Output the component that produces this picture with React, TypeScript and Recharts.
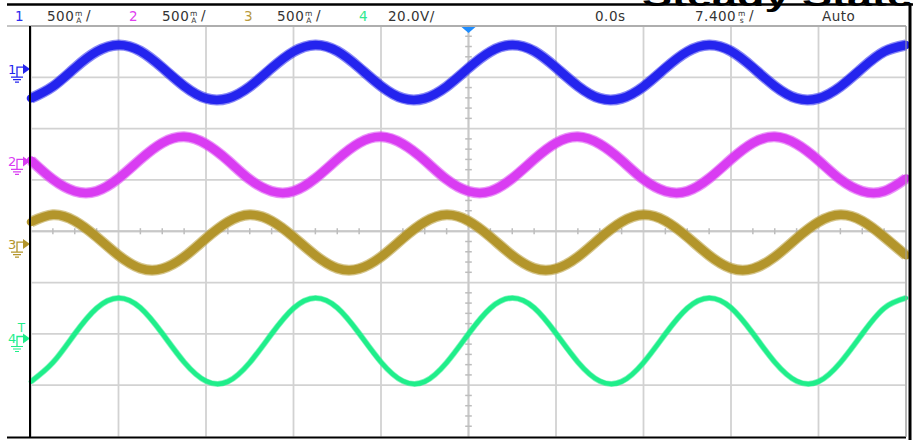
import { LineChart, Line, XAxis, YAxis, CartesianGrid, ReferenceLine, ReferenceDot } from 'recharts';

// time base: 7.400 ms/div, 10 div, trigger at 0.0s
const timeMs = [
  -37, -35.15, -33.3, -31.45, -29.6, -27.75, -25.9, -24.05, -22.2, -20.35,
  -18.5, -16.65, -14.8, -12.95, -11.1, -9.25, -7.4, -5.55, -3.7, -1.85,
  0, 1.85, 3.7, 5.55, 7.4, 9.25, 11.1, 12.95, 14.8, 16.65,
  18.5, 20.35, 22.2, 24.05, 25.9, 27.75, 29.6, 31.45, 33.3, 35.15, 37,
];

// traces, in divisions (0 = centre line)
const ch1 = [
  2.59, 2.82, 3.18, 3.5, 3.63, 3.51, 3.19, 2.83, 2.59,
  2.59, 2.82, 3.18, 3.5, 3.63, 3.51, 3.19, 2.83, 2.59,
  2.59, 2.82, 3.18, 3.5, 3.63, 3.51, 3.19, 2.83, 2.59,
  2.59, 2.82, 3.18, 3.5, 3.63, 3.51, 3.19, 2.83, 2.59,
  2.59, 2.82, 3.18, 3.5, 3.63,
];
const ch2 = [
  1.38, 1.01, 0.78, 0.78, 1.03, 1.4, 1.72, 1.84, 1.7,
  1.38, 1.01, 0.78, 0.78, 1.03, 1.4, 1.72, 1.84, 1.7,
  1.38, 1.01, 0.78, 0.78, 1.03, 1.4, 1.72, 1.84, 1.7,
  1.38, 1.01, 0.78, 0.78, 1.03, 1.4, 1.72, 1.84, 1.7,
  1.38, 1.01, 0.78, 0.78, 1.03,
];
const ch3 = [
  0.18, 0.32, 0.2, -0.11, -0.47, -0.72, -0.73, -0.5, -0.14,
  0.18, 0.32, 0.2, -0.11, -0.47, -0.72, -0.73, -0.5, -0.14,
  0.18, 0.32, 0.2, -0.11, -0.47, -0.72, -0.73, -0.5, -0.14,
  0.18, 0.32, 0.2, -0.11, -0.47, -0.72, -0.73, -0.5, -0.14,
  0.18, 0.32, 0.2, -0.11, -0.47,
];
const ch4 = [
  -2.93, -2.56, -2.0, -1.5, -1.3, -1.49, -1.99, -2.55, -2.92,
  -2.93, -2.56, -2.0, -1.5, -1.3, -1.49, -1.99, -2.55, -2.92,
  -2.93, -2.56, -2.0, -1.5, -1.3, -1.49, -1.99, -2.55, -2.92,
  -2.93, -2.56, -2.0, -1.5, -1.3, -1.49, -1.99, -2.55, -2.92,
  -2.93, -2.56, -2.0, -1.5, -1.3,
];

const chKeys = ['ch1', 'ch2', 'ch3', 'ch4'];
const chLabels = ['1', '2', '3', '4'];
const chScales = ['500', '500', '500', '20.0V/'];
const chOffsets = [3.16, 1.36, -0.25, -2.09];
const chColors = ['#2424ee', '#d93cf2', '#b3952b', '#1fee8a'];
const labelColors = ['#2a2aee', '#e040f0', '#b89a40', '#30e890'];

const divX = [-37, -29.6, -22.2, -14.8, -7.4, 0, 7.4, 14.8, 22.2, 29.6, 37];
const divY = [-4, -3, -2, -1, 0, 1, 2, 3, 4];

const minorX = divX.slice(0, -1).flatMap((v) => [1, 2, 3].map((k) => +(v + k * 1.85).toFixed(2)));
const minorY = divY.slice(0, -1).flatMap((v) => [1, 2, 3, 4].map((k) => +(v + k * 0.2).toFixed(2)));

const chartData = timeMs.map((t, i) => ({ t, ch1: ch1[i], ch2: ch2[i], ch3: ch3[i], ch4: ch4[i] }));

const W = 913;
const H = 440;
const FONT = '"DejaVu Sans", sans-serif';

const ChannelMarker = ({ cx, cy, color, label, trig }: any) => (
  <g>
    <text x={cx - 23} y={cy + 5} fill={color} fontSize={13} fontFamily={FONT}>{label}</text>
    <path d={`M${cx - 14} ${cy + 8} V${cy - 2} H${cx - 8}`} stroke={color} strokeWidth={1.3} fill="none" />
    <path d={`M${cx - 8} ${cy - 5} L${cx - 1} ${cy} L${cx - 8} ${cy + 5} Z`} fill={color} />
    <path
      d={`M${cx - 20} ${cy + 8} H${cx - 8} M${cx - 18} ${cy + 10.5} H${cx - 10} M${cx - 16} ${cy + 13} H${cx - 12}`}
      stroke={color}
      strokeWidth={1.2}
    />
    {trig && (
      <text x={cx - 9.5} y={cy - 6} fill={color} fontSize={12} fontFamily={FONT} textAnchor="middle">T</text>
    )}
  </g>
);

const Stacked = ({ x, top, bottom }: { x: number; top: string; bottom: string }) => (
  <>
    <text x={x} y={16} fontSize={7.5} textAnchor="middle">{top}</text>
    <text x={x} y={23} fontSize={7.5} textAnchor="middle">{bottom}</text>
  </>
);

const Header = () => {
  const xs = [[15, 47], [129, 162], [244, 277], [359, 388]];
  return (
    <svg width={W} height={H} style={{ position: 'absolute', left: 0, top: 0, pointerEvents: 'none' }}>
      <text
        x={642}
        y={6}
        fontSize={28}
        fontWeight="bold"
        fontFamily='"Liberation Sans", Arial, sans-serif'
        textLength={270}
        lengthAdjust="spacingAndGlyphs"
        fill="#000"
      >
        Steady State
      </text>
      <line x1={7} y1={4.5} x2={W} y2={4.5} stroke="#000" strokeWidth={2.5} />
      <g fontFamily={FONT} fill="#333" fontSize={13.5} letterSpacing={0.5}>
        {xs.map(([lx, sx], i) => (
          <g key={i}>
            <text x={lx} y={21} fill={labelColors[i]}>{chLabels[i]}</text>
            <text x={sx} y={21}>{chScales[i]}</text>
            {i < 3 && (
              <>
                <Stacked x={sx + 32} top="m" bottom="A" />
                <text x={sx + 39} y={20}>/</text>
              </>
            )}
          </g>
        ))}
        <text x={595} y={21}>0.0s</text>
        <text x={695} y={21}>7.400</text>
        <Stacked x={742} top="m" bottom="s" />
        <text x={749} y={20}>/</text>
        <text x={822} y={21}>Auto</text>
      </g>
      <line x1={7} y1={26} x2={906} y2={26} stroke="#8a8a8a" strokeWidth={1} />
      <line x1={30} y1={26} x2={30} y2={438} stroke="#000" strokeWidth={2} />
      <line x1={7} y1={437.5} x2={906} y2={437.5} stroke="#000" strokeWidth={2} />
      <line x1={906} y1={26} x2={906} y2={437} stroke="#9a9a9a" strokeWidth={1} />
      <line x1={910} y1={3} x2={910} y2={H} stroke="#000" strokeWidth={3} />
    </svg>
  );
};

export default function App() {
  return (
    <div style={{ position: 'absolute', left: 0, top: 0, width: W, height: H, background: '#fff' }}>
      <LineChart width={W} height={H} data={chartData} margin={{ top: 26, right: 7, bottom: 3.5, left: 31 }}>
        <XAxis dataKey="t" type="number" domain={[-37, 37]} ticks={divX} hide />
        <YAxis type="number" domain={[-4, 4]} ticks={divY} hide />
        <CartesianGrid stroke="#d2d2d2" strokeWidth={1.8} horizontalValues={divY} verticalValues={divX} />
        <ReferenceLine x={0} stroke="#c8c8c8" strokeWidth={1.8} />
        <ReferenceLine y={0} stroke="#c8c8c8" strokeWidth={1.8} />
        {minorX.map((v) => (
          <ReferenceLine
            key={'mx' + v}
            segment={[{ x: v, y: -0.06 }, { x: v, y: 0.06 }]}
            stroke="#bdbdbd"
            strokeWidth={1.5}
            ifOverflow="visible"
          />
        ))}
        {minorY.map((v) => (
          <ReferenceLine
            key={'my' + v}
            segment={[{ x: -0.28, y: v }, { x: 0.28, y: v }]}
            stroke="#bdbdbd"
            strokeWidth={1.5}
            ifOverflow="visible"
          />
        ))}
        {chKeys.map((k, i) => (
          <Line
            key={k + 'halo'}
            dataKey={k}
            type="natural"
            stroke={chColors[i]}
            strokeOpacity={0.55}
            strokeWidth={i === 3 ? 6 : 11}
            dot={false}
            isAnimationActive={false}
            legendType="none"
          />
        ))}
        {chKeys.map((k, i) => (
          <Line
            key={k}
            dataKey={k}
            type="natural"
            stroke={chColors[i]}
            strokeWidth={i === 3 ? 4.5 : 8.5}
            strokeLinecap="round"
            dot={false}
            isAnimationActive={false}
          />
        ))}
        {chOffsets.map((v, i) => (
          <ReferenceDot
            key={'m' + i}
            x={-37}
            y={v}
            ifOverflow="visible"
            shape={(p: any) => (
              <ChannelMarker cx={p.cx} cy={p.cy} color={chColors[i]} label={chLabels[i]} trig={i === 3} />
            )}
          />
        ))}
        <ReferenceDot
          x={0}
          y={4}
          ifOverflow="visible"
          shape={(p: any) => (
            <path d={`M${p.cx - 7} ${p.cy + 1} L${p.cx + 7} ${p.cy + 1} L${p.cx} ${p.cy + 7} Z`} fill="#1e8cff" />
          )}
        />
      </LineChart>
      <Header />
    </div>
  );
}
